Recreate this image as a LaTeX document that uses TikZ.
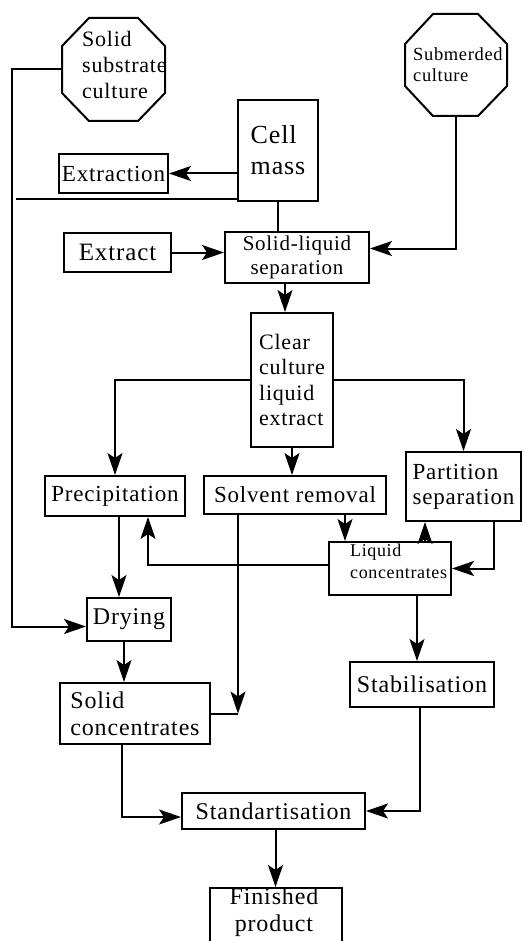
\documentclass[tikz,border=0pt]{standalone}
\usepackage{fontspec}
\setmainfont{Liberation Serif}[LetterSpace=3.5]
\usetikzlibrary{arrows.meta}
\newcommand{\fsz}[2]{\fontsize{#1}{#2}\selectfont}
\begin{document}
\begin{tikzpicture}[x=1pt,y=-1pt,
 box/.style={draw, line width=2pt, inner sep=0pt, align=center},
 arr/.style={line width=2pt, -{Stealth[length=22pt,width=15pt,inset=5pt]}},
 ln/.style={line width=2pt},
 oct/.style={line width=2pt, line join=miter},
 txt/.style={inner sep=0pt}]
\useasboundingbox (0,0) rectangle (524,941);
\clip (0,0) rectangle (524,941);

% octagons
\node[minimum width=103pt, minimum height=103pt, inner sep=0pt] (ssc) at (113.5,69.5) {};
\draw[oct] (89,18) -- (138,18) -- (165,46) -- (165,93) -- (138,121) -- (89,121) -- (62,93) -- (62,46) -- cycle;
\node[txt, align=left, font=\fsz{22}{26}, anchor=north west] (ssct) at (82,31) {Solid\\substrate\\culture};

\node[minimum width=102pt, minimum height=102pt, inner sep=0pt] (sub) at (456,65) {};
\draw[oct] (433,14) -- (478,14) -- (507,44) -- (507,86) -- (478,116) -- (433,116) -- (405,86) -- (405,44) -- cycle;
\node[txt, align=left, font=\fsz{18.5}{21}, anchor=north west] (subt) at (413,47) {Submerded\\culture};

% boxes
\node[box, minimum width=80pt, minimum height=101pt, font=\fsz{26}{31}, align=left] (cell) at (278,150.5) {Cell\\mass};
\node[box, minimum width=109pt, minimum height=39pt, font=\fsz{23}{26}] (extraction) at (113.5,173.5) {Extraction};
\node[box, minimum width=107pt, minimum height=39pt, font=\fsz{25}{28}] (extract) at (117.5,252.5) {Extract};
\node[box, minimum width=144pt, minimum height=51pt, font=\fsz{21}{24}] (sl) at (297,257.5) {Solid-liquid\\separation};
\node[box, minimum width=82pt, minimum height=134pt, font=\fsz{22}{25.5}, align=left] (clear) at (292,380) {Clear\\culture\\liquid\\extract};
\node[box, minimum width=140pt, minimum height=40pt, font=\fsz{23}{26}] (precip) at (115,496) {Precipitation};
\node[box, minimum width=182pt, minimum height=38pt, font=\fsz{23}{26}] (solv) at (295,495) {Solvent removal};
\node[box, minimum width=115pt, minimum height=69pt, font=\fsz{23}{25}, align=left] (part) at (463.5,486.5) {Partition\\separation};
\node[box, minimum width=122pt, minimum height=53pt] (liq) at (390,568.5) {};
\node[txt, align=left, font=\fsz{18}{22}, anchor=north west] (liqt) at (350,544) {Liquid\\concentrates};
\node[box, minimum width=84pt, minimum height=43pt, font=\fsz{24}{27}] (drying) at (129,619.5) {Drying};
\node[box, minimum width=150pt, minimum height=61pt, font=\fsz{24}{27}, align=left] (solidc) at (135,713.5) {Solid\\concentrates};
\node[box, minimum width=144pt, minimum height=45pt, font=\fsz{24}{27}] (stab) at (422,684.5) {Stabilisation};
\node[box, minimum width=183pt, minimum height=36pt, font=\fsz{24}{27}] (stand) at (273.5,811) {Standartisation};
\node[box, minimum width=132pt, minimum height=70pt] (fin) at (275.5,923) {};
\node[txt, align=center, font=\fsz{24}{27}] (fint) at (274,912) {Finished\\product};

% helper coordinates
\coordinate (lx) at (12,0);
\coordinate (dryin) at ([yshift=-7pt]drying.west);
\coordinate (slin) at ([yshift=9pt]sl.east);
\coordinate (liqout) at ([yshift=4pt]liq.west);
\coordinate (standin) at ([yshift=-6pt]stand.west);
\coordinate (lfree) at (16,199);
\coordinate (x285) at (285,0);
\coordinate (x345) at (345,0);
\coordinate (x425) at (425,0);
\coordinate (x494) at (494,0);
\coordinate (x148) at (148,0);
\coordinate (x238) at (238,0);
\coordinate (x119) at (119,0);
\coordinate (x124) at (124,0);
\coordinate (x417) at (417,0);
\coordinate (x420) at (420,0);
\coordinate (x122) at (122,0);

% connectors
\draw[arr] (ssc.west) -| (lx |- dryin) -- (dryin);
\draw[arr] (cell.west |- extraction.east) -- (extraction.east);
\draw[ln] (lfree) -- (lfree -| cell.west);
\draw[ln] (cell.south) -- (cell.south |- sl.north);
\draw[arr] (sub.south) |- (slin);
\draw[arr] (extract.east) -- (extract.east -| sl.west);
\draw[arr] (sl.south -| x285) -- (clear.north -| x285);
\draw[arr] (clear.west) -| (precip.north);
\draw[arr] (clear.east) -| (part.north);
\draw[arr] (clear.south) -- (clear.south |- solv.north);
\draw[arr] (solv.south -| x345) -- (liq.north -| x345);
\draw[arr] (liq.north -| x425) -- (part.south -| x425);
\draw[arr] (part.south -| x494) |- (liq.east);
\draw[arr] (liqout) -| (precip.south -| x148);
\draw[arr] (solv.south -| x238) -- (solidc.east -| x238);
\draw[ln] (solidc.east) -- (solidc.east -| x238);
\draw[arr] (precip.south -| x119) -- (drying.north -| x119);
\draw[arr] (drying.south -| x124) -- (solidc.north -| x124);
\draw[arr] (liq.south -| x417) -- (stab.north -| x417);
\draw[arr] (stab.south -| x420) |- (stand.east);
\draw[arr] (solidc.south -| x122) |- (standin);
\draw[arr] (fin.north |- stand.south) -- (fin.north);
\end{tikzpicture}
\end{document}
